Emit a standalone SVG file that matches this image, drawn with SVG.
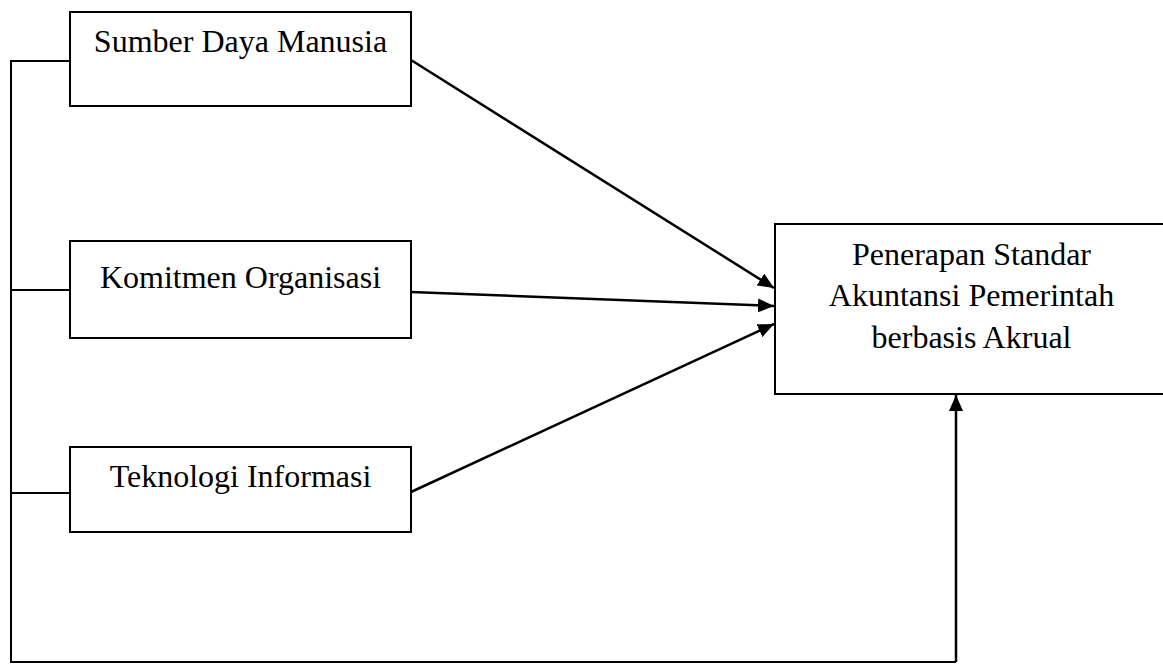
<svg xmlns="http://www.w3.org/2000/svg" width="1163" height="664" viewBox="0 0 1163 664">
<defs>
<style>
.box{fill:#fff;stroke:#000;stroke-width:2}
.lbl{font-family:"Liberation Serif","Times New Roman",serif;font-size:32px;fill:#000;text-anchor:middle}
.ln{fill:none;stroke:#000;stroke-width:2}
.ar{fill:none;stroke:#000;stroke-width:2.5;marker-end:url(#ah)}
</style>
<marker id="ah" viewBox="0 0 16 14" refX="16" refY="7" markerWidth="16" markerHeight="14" markerUnits="userSpaceOnUse" orient="auto">
<path d="M0,0 L16,7 L0,14 Z" fill="#000"/>
</marker>
</defs>
<rect width="1163" height="664" fill="#fff"/>
<g id="connectors">
<path class="ln" d="M70,61 H11 V662 H956"/>
<path class="ln" d="M11,290 H70"/>
<path class="ln" d="M11,493 H70"/>
<path class="ar" d="M956,662 V395"/>
<path class="ar" d="M411,60 L774,288"/>
<path class="ar" d="M411,292 L774,306"/>
<path class="ar" d="M411,492 L774,324"/>
</g>
<g id="node-sdm">
<rect class="box" x="70" y="12" width="341" height="94"/>
<text class="lbl" x="240.5" y="52">Sumber Daya Manusia</text>
</g>
<g id="node-komitmen">
<rect class="box" x="70" y="241" width="341" height="97"/>
<text class="lbl" x="240.5" y="288">Komitmen Organisasi</text>
</g>
<g id="node-ti">
<rect class="box" x="70" y="447" width="341" height="85"/>
<text class="lbl" x="240.5" y="487">Teknologi Informasi</text>
</g>
<g id="node-sap">
<rect class="box" x="775" y="224" width="394" height="170"/>
<text class="lbl" x="971.5" y="265">Penerapan Standar</text>
<text class="lbl" x="971.5" y="306">Akuntansi Pemerintah</text>
<text class="lbl" x="971.5" y="348">berbasis Akrual</text>
</g>
</svg>
